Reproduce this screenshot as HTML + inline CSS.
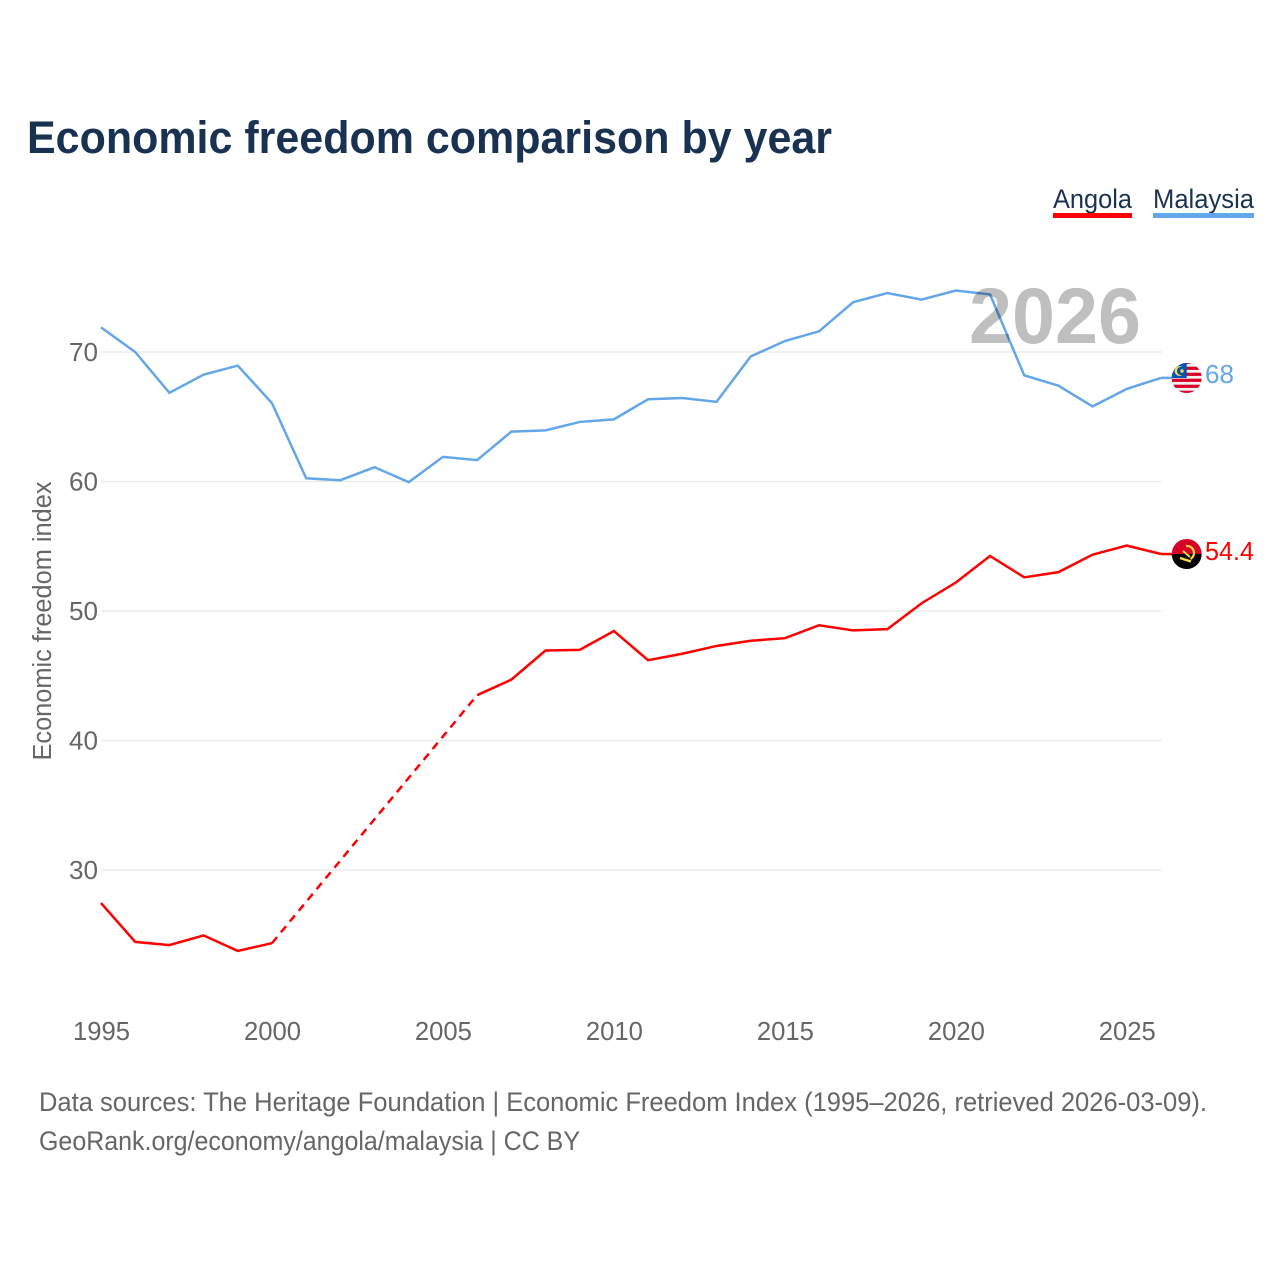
<!DOCTYPE html>
<html lang="en">
<head>
<meta charset="utf-8">
<title>Economic freedom comparison by year</title>
<style>
html,body{margin:0;padding:0;background:#fff}
svg{display:block}
text{font-family:"Liberation Sans",sans-serif}
</style>
</head>
<body>
<svg id="chart" width="1280" height="1280" viewBox="0 0 1280 1280" xmlns="http://www.w3.org/2000/svg">
  <rect width="1280" height="1280" fill="#fff"/>
  <text x="27" y="153" font-size="45" font-weight="700" fill="#1a3252" textLength="805" lengthAdjust="spacingAndGlyphs">Economic freedom comparison by year</text>

  <g>
    <text x="1053" y="208" font-size="27" fill="#1a3252" textLength="79" lengthAdjust="spacingAndGlyphs">Angola</text>
    <rect x="1053" y="213" width="79" height="5" fill="#ff0000"/>
  </g>
  <g>
    <text x="1153" y="208" font-size="27" fill="#1a3252" textLength="101" lengthAdjust="spacingAndGlyphs">Malaysia</text>
    <rect x="1153" y="213" width="101" height="5" fill="#63a6ea"/>
  </g>

  <g id="grid"></g>
  <g id="yticks"></g>
  <g id="xticks"></g>

  <text transform="translate(51,621) rotate(-90)" text-anchor="middle" font-size="25.5" fill="#666" textLength="279" lengthAdjust="spacingAndGlyphs">Economic freedom index</text>

  <g id="series"></g>

  <text x="969" y="343" font-size="79" font-weight="700" fill="#000" fill-opacity="0.25" textLength="172" lengthAdjust="spacingAndGlyphs">2026</text>

  <defs>
    <clipPath id="flag-clip-my"><circle cx="1186.7" cy="378" r="15"/></clipPath>
    <clipPath id="flag-clip-ao"><circle cx="1186.7" cy="554" r="15"/></clipPath>
  </defs>
  <g id="end-malaysia">
    <g clip-path="url(#flag-clip-my)">
      <rect x="1171" y="362" width="32" height="32" fill="#f0f0f0"/>
      <rect x="1171" y="360.7" width="32" height="3.2" fill="#d80027"/>
      <rect x="1171" y="366.7" width="32" height="3.2" fill="#d80027"/>
      <rect x="1171" y="372.7" width="32" height="3.2" fill="#d80027"/>
      <rect x="1171" y="378.7" width="32" height="3.2" fill="#d80027"/>
      <rect x="1171" y="384.7" width="32" height="3.2" fill="#d80027"/>
      <rect x="1171" y="390.7" width="32" height="3.2" fill="#d80027"/>
      <rect x="1171" y="362" width="15.7" height="16" fill="#0052b4"/>
      <circle cx="1179.6" cy="371" r="5" fill="#ffda44"/>
      <circle cx="1181.2" cy="371" r="4.2" fill="#0052b4"/>
      <circle cx="1182" cy="371" r="1.8" fill="#ffda44"/>
    </g>
    <text x="1205" y="383" font-size="25.5" fill="#63a6ea" textLength="29" lengthAdjust="spacingAndGlyphs">68</text>
  </g>
  <g id="end-angola">
    <g clip-path="url(#flag-clip-ao)">
      <rect x="1171" y="538" width="32" height="16" fill="#d80027"/>
      <rect x="1171" y="554" width="32" height="16" fill="#000"/>
      <path d="M1186 546 a7 7 0 0 1 4.5 13" fill="none" stroke="#ffda44" stroke-width="2.2"/>
      <path d="M1180 558 l11 3.5" fill="none" stroke="#ffda44" stroke-width="2.4"/>
      <path d="M1183 551 l7 6" fill="none" stroke="#ffda44" stroke-width="2"/>
    </g>
    <text x="1205" y="560" font-size="25.5" fill="#ff0000" textLength="49" lengthAdjust="spacingAndGlyphs">54.4</text>
  </g>

  <text x="39" y="1111" font-size="27" fill="#666" textLength="1168" lengthAdjust="spacingAndGlyphs">Data sources: The Heritage Foundation | Economic Freedom Index (1995–2026, retrieved 2026-03-09).</text>
  <text x="39" y="1150" font-size="27" fill="#666" textLength="541" lengthAdjust="spacingAndGlyphs">GeoRank.org/economy/angola/malaysia | CC BY</text>
</svg>
<script>
const years = [1995,1996,1997,1998,1999,2000,2001,2002,2003,2004,2005,2006,2007,2008,2009,2010,2011,2012,2013,2014,2015,2016,2017,2018,2019,2020,2021,2022,2023,2024,2025,2026];
const malaysiaValues = [71.9,70,66.85,68.25,68.95,66.05,60.25,60.1,61.1,59.95,61.9,61.65,63.85,63.95,64.6,64.8,66.35,66.45,66.15,69.65,70.85,71.6,73.85,74.55,74.05,74.75,74.45,68.2,67.4,65.8,67.15,68];
const angolaValues = [27.45,24.45,24.2,24.95,23.75,24.35,null,null,null,null,null,43.5,44.7,46.95,47,48.45,46.2,46.7,47.3,47.7,47.9,48.9,48.5,48.6,50.6,52.2,54.25,52.6,53,54.35,55.05,54.4];
const yTickValues = [30,40,50,60,70];
const xTickValues = [1995,2000,2005,2010,2015,2020,2025];

const NS = 'http://www.w3.org/2000/svg';
const xScale = function (year) { return 101 + (year - 1995) * (1161 - 101) / 31; };
const yScale = function (value) { return 352 + (70 - value) * 12.95; };
function make(tag, parent) {
  const el = document.createElementNS(NS, tag);
  parent.appendChild(el);
  return el;
}

const grid = document.getElementById('grid');
const yticks = document.getElementById('yticks');
yTickValues.forEach(function (v) {
  const line = make('line', grid);
  
  
  line.setAttribute('x1', 101);
  line.setAttribute('x2', 1161.5);
  line.setAttribute('y1', yScale(v));
  line.setAttribute('y2', yScale(v));
  line.setAttribute('stroke', '#ebebeb');
  line.setAttribute('stroke-width', 1.5);
  const label = make('text', yticks);
  
  
  label.setAttribute('x', 98);
  label.setAttribute('y', yScale(v) + 9);
  label.setAttribute('text-anchor', 'end');
  label.setAttribute('font-size', 25.5);
  label.setAttribute('fill', '#666');
  label.setAttribute('textLength', 29);
  label.setAttribute('lengthAdjust', 'spacingAndGlyphs');
  label.textContent = v;
});

const xticks = document.getElementById('xticks');
xTickValues.forEach(function (y) {
  const label = make('text', xticks);
  
  
  label.setAttribute('x', xScale(y) + 0.5);
  label.setAttribute('y', 1040);
  label.setAttribute('text-anchor', 'middle');
  label.setAttribute('font-size', 25.5);
  label.setAttribute('fill', '#666');
  label.setAttribute('textLength', 57);
  label.setAttribute('lengthAdjust', 'spacingAndGlyphs');
  label.textContent = y;
});

function drawSeries(name, values, color) {
  const group = document.getElementById('series');
  let segment = [];
  let lastPoint = null;
  const flush = function () {
    if (segment.length < 2) { segment = []; return; }
    const path = make('polyline', group);
    
    
    path.setAttribute('points', segment.join(' '));
    path.setAttribute('fill', 'none');
    path.setAttribute('stroke', color);
    path.setAttribute('stroke-width', 2.5);
    segment = [];
  };
  values.forEach(function (v, i) {
    if (v === null) { flush(); return; }
    const pt = [xScale(years[i]), yScale(v)];
    if (lastPoint && lastPoint.index !== i - 1) {
      const gap = make('line', group);
      
      
      gap.setAttribute('x1', lastPoint.pt[0]);
      gap.setAttribute('y1', lastPoint.pt[1]);
      gap.setAttribute('x2', pt[0]);
      gap.setAttribute('y2', pt[1]);
      gap.setAttribute('stroke', color);
      gap.setAttribute('stroke-width', 2.5);
      gap.setAttribute('stroke-dasharray', '8 6');
    }
    segment.push(pt.join(','));
    lastPoint = { index: i, pt: pt };
  });
  flush();
  const tail = make('line', group);
  
  
  tail.setAttribute('x1', lastPoint.pt[0]);
  tail.setAttribute('y1', lastPoint.pt[1]);
  tail.setAttribute('x2', 1174);
  tail.setAttribute('y2', lastPoint.pt[1]);
  tail.setAttribute('stroke', color);
  tail.setAttribute('stroke-width', 2.5);
}
drawSeries('malaysia', malaysiaValues, '#63a6ea');
drawSeries('angola', angolaValues, '#ff0000');
</script>
</body>
</html>
